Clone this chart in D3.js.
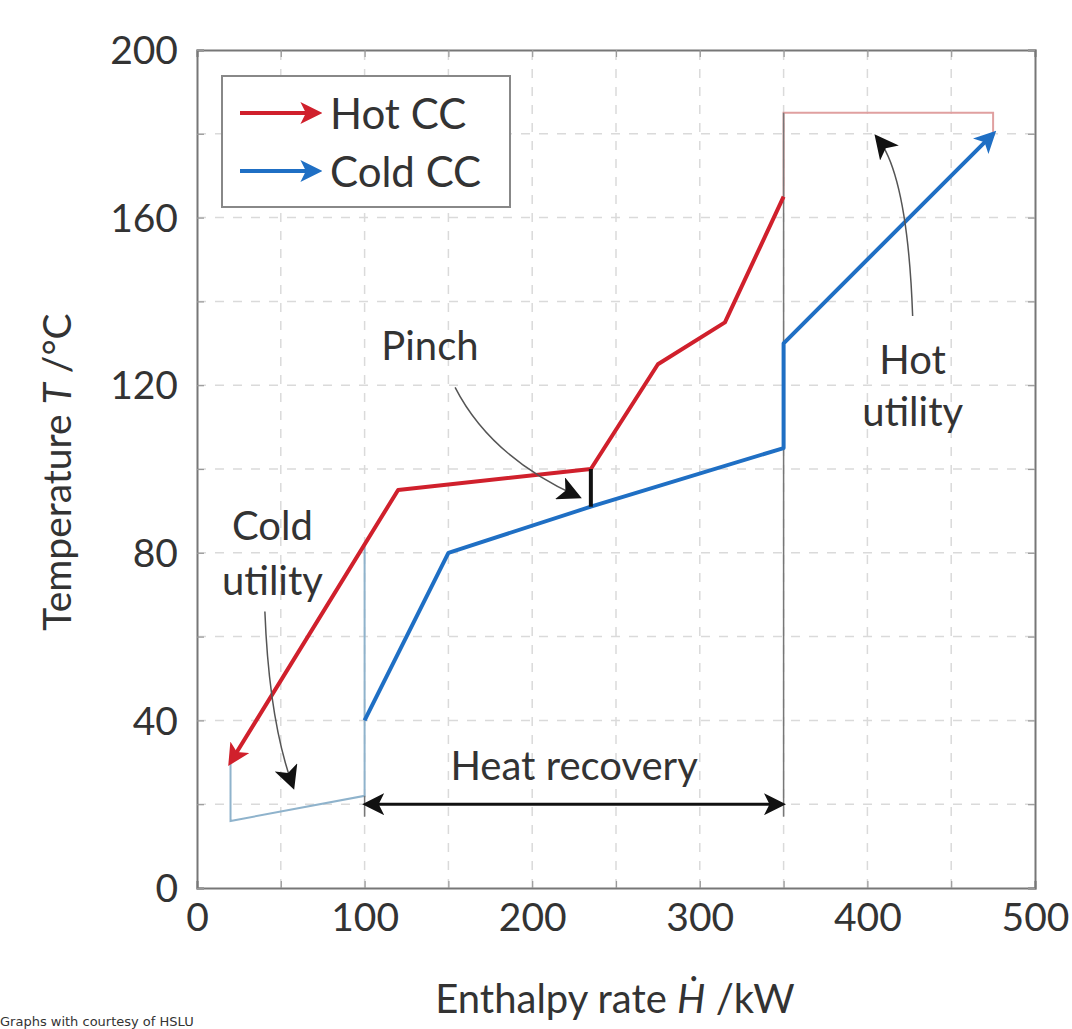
<!DOCTYPE html>
<html><head><meta charset="utf-8">
<script src="https://cdn.jsdelivr.net/npm/d3@7"></script>
<style>body{margin:0;background:#fff}svg{display:block}</style>
</head><body>
<svg id="c" width="1072" height="1029"></svg>
<script>
// ---- data ----
const xTicks = [0,100,200,300,400,500];
const yTicks = [0,40,80,120,160,200];
const hotCC = [[350,165],[315,135],[275,125],[235,100],[120,95],[20,30]];
const coldCC = [[100,40],[150,80],[235,91],[350,105],[350,130],[475,180]];
const coldUtility = [[20,30],[20,16],[100,22],[100,82]];
const hotUtility = [[350,165],[350,185],[475,185],[475,180]];
const pinch = [[235,100],[235,91]];
const recoveryBounds = [[100,22,17],[350,185,17]];
const recovery = [[100,20],[350,20]];
const legendItems = ["Hot CC","Cold CC"];

const svg = d3.select("#c");
const m = {l:197, r:1035, t:50, b:888};
const x = d3.scaleLinear().domain([0,500]).range([m.l,m.r]);
const y = d3.scaleLinear().domain([0,200]).range([m.b,m.t]);
const red="#d0202c", blue="#1f6fc4";
const font="Lato, 'Open Sans', sans-serif";

const defs = svg.append("defs");
function marker(id,color,size){
  defs.append("marker").attr("id",id).attr("viewBox","0 0 10 10").attr("refX",8).attr("refY",5)
    .attr("markerWidth",size).attr("markerHeight",size).attr("orient","auto-start-reverse")
    .attr("markerUnits","userSpaceOnUse")
    .append("path").attr("d","M0,0 L10,5 L0,10 L2.5,5 Z").attr("fill",color);
}
marker("mr",red,22); marker("mb",blue,22); marker("mk","#111",24); marker("mk2","#111",22);

// grid
const g = svg.append("g");
d3.range(50,500,50).forEach(v=>g.append("line").attr("x1",x(v)).attr("x2",x(v)).attr("y1",y(0)).attr("y2",y(200))
  .attr("stroke","#dadada").attr("stroke-width",1.5).attr("stroke-dasharray","9,9"));
d3.range(20,200,20).forEach(v=>g.append("line").attr("y1",y(v)).attr("y2",y(v)).attr("x1",x(0)).attr("x2",x(500))
  .attr("stroke","#dadada").attr("stroke-width",1.5).attr("stroke-dasharray","9,9"));

// axes
const xa = svg.append("g").attr("transform",`translate(0,${m.b})`)
  .call(d3.axisBottom(x).tickValues(d3.range(0,501,50)).tickSize(-7).tickPadding(12)
    .tickFormat(d=>xTicks.includes(d)?d:""));
const xt = svg.append("g").attr("transform",`translate(0,${m.t})`)
  .call(d3.axisTop(x).tickValues(d3.range(0,501,50)).tickSize(-7).tickFormat(""));
const ya = svg.append("g").attr("transform",`translate(${m.l},0)`)
  .call(d3.axisLeft(y).tickValues(d3.range(0,201,20)).tickSize(-7).tickPadding(19)
    .tickFormat(d=>yTicks.includes(d)?d:""));
const yr = svg.append("g").attr("transform",`translate(${m.r},0)`)
  .call(d3.axisRight(y).tickValues(d3.range(0,201,20)).tickSize(-7).tickFormat(""));
[xa,xt,ya,yr].forEach(a=>{
  a.selectAll("path").attr("stroke","#777").attr("stroke-width",2);
  a.selectAll("line").attr("stroke","#999").attr("stroke-width",1.2);
  a.selectAll("text").attr("font-family",font).attr("font-size",39).attr("fill","#333");
});
xa.selectAll("text").attr("dy","0.8em");
ya.selectAll("text").attr("dy","0.35em");

const line = d3.line().x(d=>x(d[0])).y(d=>y(d[1]));

// utilities
svg.append("path").attr("d",line(coldUtility)).attr("fill","none").attr("stroke","#8fb3cc").attr("stroke-width",2);
svg.append("path").attr("d",line(hotUtility)).attr("fill","none").attr("stroke","#e0a0a0").attr("stroke-width",2);
recoveryBounds.forEach(d=>svg.append("line").attr("x1",x(d[0])).attr("x2",x(d[0])).attr("y1",y(d[1])).attr("y2",y(d[2]))
  .attr("stroke","#777").attr("stroke-width",1.5));

// composite curves
svg.append("path").attr("d",line(hotCC)).attr("fill","none").attr("stroke",red).attr("stroke-width",4)
  .attr("stroke-linejoin","round").attr("marker-end","url(#mr)");
svg.append("path").attr("d",line(coldCC)).attr("fill","none").attr("stroke",blue).attr("stroke-width",4)
  .attr("stroke-linejoin","round").attr("marker-end","url(#mb)");
svg.append("path").attr("d",line(pinch)).attr("stroke","#111").attr("stroke-width",4);

// heat recovery double arrow
svg.append("line").attr("x1",x(recovery[0][0])+2).attr("x2",x(recovery[1][0])-2).attr("y1",y(recovery[0][1])).attr("y2",y(recovery[1][1]))
  .attr("stroke","#111").attr("stroke-width",3).attr("marker-start","url(#mk2)").attr("marker-end","url(#mk2)");

// annotation arrows (curved)
function curve(p0,c,p1){
  return `M${x(p0[0])},${y(p0[1])} Q${x(c[0])},${y(c[1])} ${x(p1[0])},${y(p1[1])}`;
}
const ann = [
  [[154,119.5],[175,103],[227,93.5]],
  [[427,136.5],[424,170],[406,179]],
  [[40.5,66],[43,40],[57,24.5]]
];
ann.forEach(a=>svg.append("path").attr("d",curve(...a)).attr("fill","none").attr("stroke","#555")
  .attr("stroke-width",1.5).attr("marker-end","url(#mk)"));

// labels
const labels = [
  ["Pinch",139,129.6],["Hot",427,126.2],["utility",427,113.8],
  ["Cold",45,86.6],["utility",45,73.5],["Heat recovery",225,29.4]
];
labels.forEach(l=>svg.append("text").attr("x",x(l[1])).attr("y",y(l[2])).attr("text-anchor","middle")
  .attr("dominant-baseline","central").attr("font-family",font).attr("font-size",40).attr("fill","#333").text(l[0]));

// legend
const lg = svg.append("g");
lg.append("rect").attr("x",222).attr("y",76).attr("width",288).attr("height",131).attr("fill","#fff")
  .attr("stroke","#888").attr("stroke-width",2);
legendItems.forEach((t,i)=>{
  const yy = 113 + i*58;
  lg.append("line").attr("x1",240).attr("x2",318).attr("y1",yy).attr("y2",yy)
    .attr("stroke",i?blue:red).attr("stroke-width",4).attr("marker-end",i?"url(#mb)":"url(#mr)");
  lg.append("text").attr("x",330).attr("y",yy).attr("dominant-baseline","central")
    .attr("font-family",font).attr("font-size",42).attr("fill","#333").text(t);
});

// axis titles
svg.append("text").attr("transform",`translate(56,${472}) rotate(-90)`).attr("text-anchor","middle")
  .attr("dominant-baseline","central").attr("font-family",font).attr("font-size",39).attr("fill","#333")
  .html('Temperature <tspan font-style="italic">T</tspan> /°C');
svg.append("text").attr("x",615).attr("y",998).attr("text-anchor","middle").attr("dominant-baseline","central")
  .attr("font-family",font).attr("font-size",40).attr("fill","#333")
  .html('Enthalpy rate <tspan font-style="italic">Ḣ</tspan> /kW');

// footnote
svg.append("text").attr("x",0).attr("y",1026).attr("font-family","'DejaVu Sans', sans-serif").attr("font-size",13)
  .attr("fill","#333").text("Graphs with courtesy of HSLU");
</script>
</body></html>
